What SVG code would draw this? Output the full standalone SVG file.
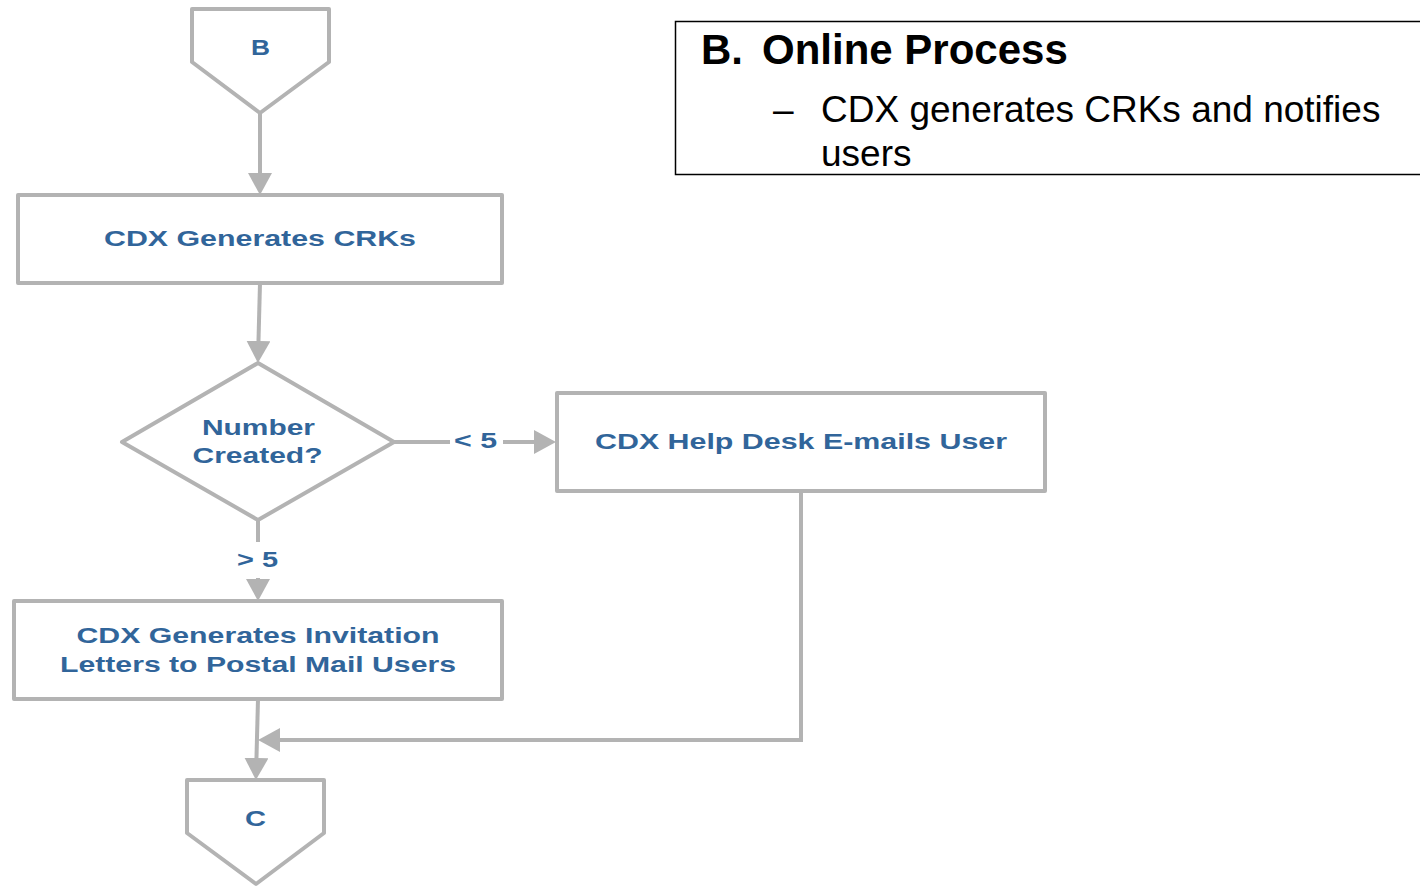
<svg xmlns="http://www.w3.org/2000/svg" width="1420" height="887" viewBox="0 0 1420 887">
<style>
.shape{fill:#fff;stroke:#b3b3b3;stroke-width:4;stroke-linejoin:round}
.conn{fill:none;stroke:#b3b3b3;stroke-width:4}
.lbl{font-family:"Liberation Sans",Arial,sans-serif;font-weight:bold;font-size:22px;fill:#31659a;text-anchor:middle}
.info{font-family:"Liberation Sans",Arial,sans-serif;fill:#000}
</style>
<defs>
<marker id="arr" viewBox="0 0 10 10" markerUnits="userSpaceOnUse" markerWidth="22" markerHeight="24" refX="8.2" refY="5" orient="auto" preserveAspectRatio="none">
<path d="M0,0 L10,5 L0,10 z" fill="#b3b3b3"/>
</marker>
</defs>
<rect width="1420" height="887" fill="#fff"/>
<g id="connectors">
<line class="conn" x1="260" y1="113" x2="260" y2="191" marker-end="url(#arr)"/>
<line class="conn" x1="260" y1="283" x2="258" y2="359" marker-end="url(#arr)"/>
<line class="conn" x1="394" y1="442" x2="450" y2="442"/>
<line class="conn" x1="503" y1="442" x2="552" y2="442" marker-end="url(#arr)"/>
<line class="conn" x1="258" y1="520" x2="258" y2="542"/>
<line class="conn" x1="258" y1="578" x2="258" y2="597" marker-end="url(#arr)"/>
<line class="conn" x1="258" y1="699" x2="256" y2="776" marker-end="url(#arr)"/>
<polyline class="conn" points="801,491 801,740 262,740" marker-end="url(#arr)"/>
<text class="lbl" x="475.5" y="448" textLength="43" lengthAdjust="spacingAndGlyphs">&lt; 5</text>
<text class="lbl" x="257.5" y="567" textLength="41" lengthAdjust="spacingAndGlyphs">&gt; 5</text>
</g>
<g id="nodeB">
<polygon class="shape" points="192,9 329,9 329,62 260,113 192,62"/>
<text class="lbl" x="260.5" y="55" textLength="19" lengthAdjust="spacingAndGlyphs">B</text>
</g>
<g id="nodeGenerate">
<rect class="shape" x="18" y="195" width="484" height="88"/>
<text class="lbl" x="260" y="246" textLength="312" lengthAdjust="spacingAndGlyphs">CDX Generates CRKs</text>
</g>
<g id="nodeDecision">
<polygon class="shape" points="258,363 394,442 258,520 122,442"/>
<text class="lbl" x="258.5" y="435" textLength="113" lengthAdjust="spacingAndGlyphs">Number</text>
<text class="lbl" x="257.5" y="463" textLength="130" lengthAdjust="spacingAndGlyphs">Created?</text>
</g>
<g id="nodeHelpDesk">
<rect class="shape" x="557" y="393" width="488" height="98"/>
<text class="lbl" x="801" y="449" textLength="412" lengthAdjust="spacingAndGlyphs">CDX Help Desk E-mails User</text>
</g>
<g id="nodeLetters">
<rect class="shape" x="14" y="601" width="488" height="98"/>
<text class="lbl" x="258" y="643" textLength="363" lengthAdjust="spacingAndGlyphs">CDX Generates Invitation</text>
<text class="lbl" x="258" y="672" textLength="396" lengthAdjust="spacingAndGlyphs">Letters to Postal Mail Users</text>
</g>
<g id="nodeC">
<polygon class="shape" points="187,780 324,780 324,833 256,884 187,833"/>
<text class="lbl" x="255.5" y="826" textLength="21" lengthAdjust="spacingAndGlyphs">C</text>
</g>
<g id="infoBox">
<rect x="675.5" y="21.5" width="760" height="153" fill="#fff" stroke="#000" stroke-width="1.5"/>
<text class="info" x="701" y="64" font-size="42" font-weight="bold">B.</text>
<text class="info" x="762" y="64" font-size="42" font-weight="bold">Online Process</text>
<text class="info" x="773" y="122" font-size="37">–</text>
<text class="info" x="821" y="122" font-size="37">CDX generates CRKs and notifies</text>
<text class="info" x="821" y="166" font-size="37">users</text>
</g>
</svg>
